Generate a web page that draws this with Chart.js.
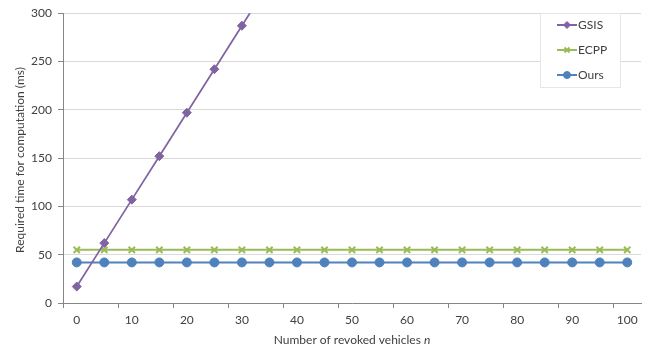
<!DOCTYPE html>
<html>
<head>
<meta charset="utf-8">
<script src="https://cdn.jsdelivr.net/npm/chart.js@4"></script>
<style>
  html, body { margin: 0; padding: 0; background: #fff; }
  #wrap { width: 651px; height: 354px; }
</style>
</head>
<body>
<div id="wrap"><canvas id="compChart" width="651" height="354"></canvas></div>
<script>
const ctx = document.getElementById("compChart").getContext("2d");

// revoked vehicles n
const N_LABELS = ["0", "5", "10", "15", "20", "25", "30", "35", "40", "45", "50",
  "55", "60", "65", "70", "75", "80", "85", "90", "95", "100"];

// required time (ms)
const GSIS = [17, 62, 107, 152, 197, 242, 287, 332];
const ECPP = [55, 55, 55, 55, 55, 55, 55, 55, 55, 55, 55,
  55, 55, 55, 55, 55, 55, 55, 55, 55, 55];
const OURS = [42, 42, 42, 42, 42, 42, 42, 42, 42, 42, 42,
  42, 42, 42, 42, 42, 42, 42, 42, 42, 42];

const Y_TICKS = [0, 50, 100, 150, 200, 250, 300];

const COLORS = {
  purple: "#8064A2",
  green: "#9BBB59",
  blue: "#4F81BD",
  grid: "#D9D9D9",
  axis: "#868686",
  text: "#404040",
};

const FONT = "Lato, 'Liberation Sans', sans-serif";

// legend box + axis titles drawn by hand (legend sits inside plot, x title has italic n)
const extras = {
  id: "extras",
  afterDraw(chart) {
    const c = chart.ctx;
    const area = chart.chartArea;
    c.save();

    // y title
    c.fillStyle = COLORS.text;
    c.font = "12px " + FONT;
    c.textAlign = "center";
    c.textBaseline = "middle";
    c.translate(20, 160);
    c.rotate(-Math.PI / 2);
    c.fillText("Required time for computation (ms)", 0, 0);
    c.setTransform(1, 0, 0, 1, 0, 0);

    // x title
    const part1 = "Number of revoked vehicles ";
    c.font = "12px " + FONT;
    const w1 = c.measureText(part1).width;
    c.font = "italic 12px " + FONT;
    const w2 = c.measureText("n").width;
    const cx = (area.left + area.right) / 2;
    const x0 = cx - (w1 + w2) / 2;
    c.textAlign = "left";
    c.font = "12px " + FONT;
    c.fillText(part1, x0, 340);
    c.font = "italic 12px " + FONT;
    c.fillText("n", x0 + w1, 340);

    // legend
    const bx = 540, by = 13, bw = 80, bh = 74;
    c.fillStyle = "#fff";
    c.fillRect(bx, by, bw, bh);
    c.strokeStyle = "#E6E6E6";
    c.lineWidth = 1;
    c.strokeRect(bx + 0.5, by + 0.5, bw, bh);

    c.font = "12px " + FONT;
    c.textBaseline = "middle";
    chart.data.datasets.forEach((ds, i) => {
      const y = 25 + i * 25;
      c.strokeStyle = ds.borderColor;
      c.lineWidth = 2;
      c.beginPath();
      c.moveTo(557, y);
      c.lineTo(577, y);
      c.stroke();
      c.fillStyle = ds.backgroundColor;
      c.strokeStyle = ds.borderColor;
      c.lineWidth = ds.pointBorderWidth;
      Chart.helpers.drawPoint(c, {
        pointStyle: ds.pointStyle,
        radius: 3.5,
        borderWidth: ds.pointBorderWidth,
        rotation: 0,
      }, 567, y);
      c.fillStyle = COLORS.text;
      c.fillText(ds.label, 578, y);
    });
    c.restore();
  },
};

const data = {
  labels: N_LABELS,
  datasets: [
    {
      label: "GSIS",
      data: GSIS,
      borderColor: COLORS.purple,
      backgroundColor: COLORS.purple,
      borderWidth: 1.75,
      pointStyle: "rectRot",
      pointRadius: 4.5,
      pointBorderWidth: 1,
    },
    {
      label: "ECPP",
      data: ECPP,
      borderColor: COLORS.green,
      backgroundColor: COLORS.green,
      borderWidth: 2,
      pointStyle: "crossRot",
      pointRadius: 4.5,
      pointBorderWidth: 2,
    },
    {
      label: "Ours",
      data: OURS,
      borderColor: COLORS.blue,
      backgroundColor: COLORS.blue,
      borderWidth: 2,
      pointStyle: "circle",
      pointRadius: 4.5,
      pointBorderWidth: 1,
    },
  ],
};

const config = {
  type: "line",
  data: data,
  plugins: [extras],
  options: {
    responsive: false,
    animation: false,
    layout: {
      padding: { top: 6, right: 10, left: 0, bottom: 0 },
    },
    plugins: {
      legend: { display: false },
      tooltip: { enabled: false },
    },
    scales: {
      x: {
        type: "category",
        offset: true,
        afterFit(scale) {
          scale.height = 51;
        },
        border: { color: COLORS.axis, width: 1 },
        grid: {
          offset: true,
          drawOnChartArea: false,
          tickLength: 5,
          color: (ctx) => (ctx.index % 2 === 0 ? COLORS.axis : "rgba(0,0,0,0)"),
        },
        ticks: {
          autoSkip: false,
          maxRotation: 0,
          padding: 5,
          color: COLORS.text,
          font: { family: FONT, size: 12 },
          callback: function (val, index) {
            return index % 2 === 0 ? this.getLabelForValue(val) : "";
          },
        },
      },
      y: {
        min: 0,
        max: 300,
        afterFit(scale) {
          scale.width = 63;
        },
        afterBuildTicks(scale) {
          scale.ticks = Y_TICKS.map((v) => ({ value: v }));
        },
        border: { color: COLORS.axis, width: 1 },
        grid: {
          color: COLORS.grid,
          tickLength: 5,
          tickColor: COLORS.axis,
        },
        ticks: {
          padding: 6,
          color: COLORS.text,
          font: { family: FONT, size: 12 },
        },
      },
    },
  },
};

const compChart = new Chart(ctx, config);
</script>
</body>
</html>
